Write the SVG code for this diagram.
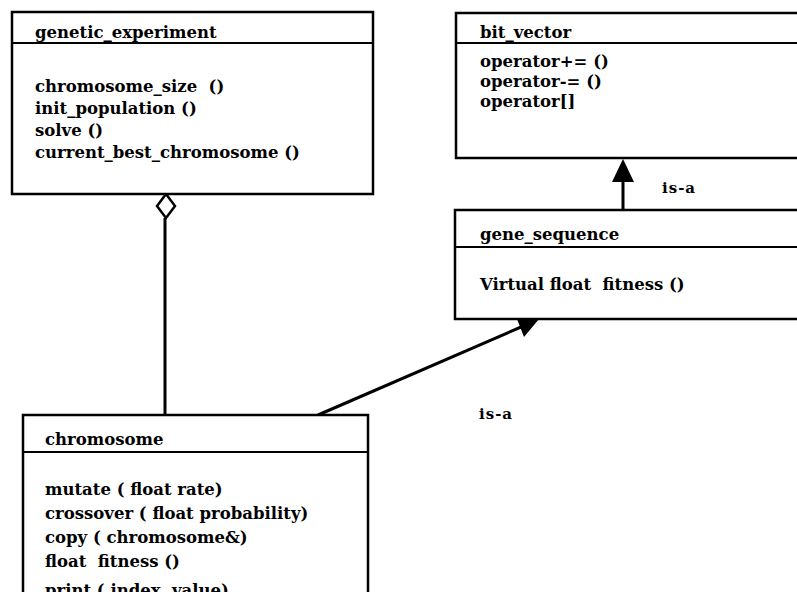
<svg xmlns="http://www.w3.org/2000/svg" width="797" height="599" viewBox="0 0 797 599">
<style>
.box{fill:#fff;stroke:#000;stroke-width:2.5}
.sep{stroke:#000;stroke-width:2}
.t{font-family:"DejaVu Serif","Liberation Serif",serif;font-weight:bold;font-size:16.5px;fill:#000;white-space:pre}
.lbl{font-family:"DejaVu Serif","Liberation Serif",serif;font-weight:bold;font-size:15px;letter-spacing:1px;fill:#000}
.con{stroke:#000;stroke-width:3;fill:none}
</style>
<defs>
<clipPath id="pageclip"><rect x="0" y="0" width="797" height="592"/></clipPath>
</defs>
<rect width="797" height="599" fill="#fff"/>
<g id="connectors">
<line class="con" x1="165" y1="218" x2="165" y2="415"/>
<polygon points="166,194 157,206 166,218 175,206" fill="#fff" stroke="#000" stroke-width="2.5"/>
<line class="con" x1="318" y1="415" x2="528" y2="324"/>
<polygon points="517,319 539,319 524,337" fill="#000"/>
<line class="con" x1="623" y1="210" x2="623" y2="175"/>
<polygon points="623,159 612,182 634,182" fill="#000"/>
<text class="lbl" x="662" y="193">is-a</text>
<text class="lbl" x="479" y="419">is-a</text>
</g>
<g id="genetic_experiment">
<rect class="box" x="12" y="12" width="361" height="182"/>
<line class="sep" x1="12" y1="43" x2="373" y2="43"/>
<text class="t" x="35" y="38">genetic_experiment</text>
<text class="t" x="35" y="92">chromosome_size  ()</text>
<text class="t" x="35" y="114">init_population ()</text>
<text class="t" x="35" y="136">solve ()</text>
<text class="t" x="35" y="158">current_best_chromosome ()</text>
</g>
<g id="bit_vector">
<rect class="box" x="456" y="13" width="360" height="145"/>
<line class="sep" x1="456" y1="43" x2="797" y2="43"/>
<text class="t" x="480" y="38">bit_vector</text>
<text class="t" x="480" y="67">operator+= ()</text>
<text class="t" x="480" y="87">operator-= ()</text>
<text class="t" x="480" y="107">operator[]</text>
</g>
<g id="gene_sequence">
<rect class="box" x="455" y="210" width="360" height="109"/>
<line class="sep" x1="455" y1="247" x2="797" y2="247"/>
<text class="t" x="480" y="240">gene_sequence</text>
<text class="t" x="480" y="290">Virtual float  fitness ()</text>
</g>
<g id="chromosome" clip-path="url(#pageclip)">
<rect class="box" x="23" y="415" width="345" height="220"/>
<line class="sep" x1="23" y1="452" x2="368" y2="452"/>
<text class="t" x="45" y="445">chromosome</text>
<text class="t" x="45" y="495">mutate ( float rate)</text>
<text class="t" x="45" y="519">crossover ( float probability)</text>
<text class="t" x="45" y="543">copy ( chromosome&amp;)</text>
<text class="t" x="45" y="567">float  fitness ()</text>
<text class="t" x="45" y="596">print ( index, value)</text>
</g>
</svg>
